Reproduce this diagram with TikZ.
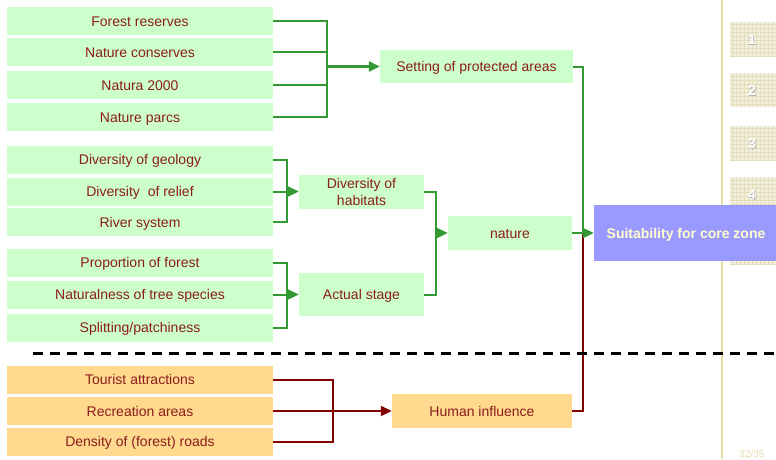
\documentclass[tikz,border=0pt]{standalone}
\usepackage{fontspec}
\setmainfont{Liberation Sans}
\usetikzlibrary{arrows.meta}
\definecolor{boxgreen}{HTML}{CCFFCC}
\definecolor{boxorange}{HTML}{FFD98E}
\definecolor{boxblue}{HTML}{9999FF}
\definecolor{txtred}{HTML}{8C1C1C}
\definecolor{txtyellow}{HTML}{FFFFCC}
\definecolor{linegreen}{HTML}{339933}
\definecolor{linered}{HTML}{800000}
\definecolor{tanline}{HTML}{E6DDA8}
\definecolor{tilebg}{HTML}{F2EFDC}
\definecolor{tilegrid}{HTML}{E4DDBC}
\begin{document}
\begin{tikzpicture}[x=1pt,y=-1pt,
    lbl/.style={text=txtred,inner sep=0pt,align=center,text height=10.5pt,text depth=0.5pt,
      font=\fontsize{14}{17}\selectfont},
    gbox/.style={lbl,fill=boxgreen},
    obox/.style={lbl,fill=boxorange},
    leaf/.style={minimum width=266pt,minimum height=28pt},
    gline/.style={draw=linegreen,line width=2pt},
    rline/.style={draw=linered,line width=2pt},
    tip/.style={-{Triangle[length=11pt,width=10pt]}}]
  \useasboundingbox (0,0) rectangle (776,459);
  \draw[tanline,line width=2pt] (722,0) -- (722,459);
  \foreach \y/\n in {22/1,73/2,126/3,177/4}{
    \fill[tilebg] (730,\y) rectangle (780,\y+34);
    \draw[tilegrid,line width=0.3pt,step=4pt] (730,\y) grid (780,\y+34);
    \node[text=gray!60,font=\fontsize{14}{16}\selectfont\bfseries] at (752.8,\y+18.8) {\n};
    \node[text=white,font=\fontsize{14}{16}\selectfont\bfseries] (t\n) at (752,\y+18) {\n};
  }
  \fill[tilebg] (730,229) rectangle (780,264);
  \draw[tilegrid,line width=0.3pt,step=4pt] (730,229) grid (780,264);
  \node[text=tanline,font=\fontsize{10}{12}\selectfont] (pg) at (752,454) {32/35};

  \node[gbox,leaf] (fr) at (140,21) {Forest reserves};
  \node[gbox,leaf] (nc) at (140,52) {Nature conserves};
  \node[gbox,leaf] (na) at (140,85) {Natura 2000};
  \node[gbox,leaf] (np) at (140,117) {Nature parcs};
  \node[gbox,leaf] (dg) at (140,159.5) {Diversity of geology};
  \node[gbox,leaf] (dr) at (140,191.5) {Diversity\ \ of relief};
  \node[gbox,leaf] (rs) at (140,222) {River system};
  \node[gbox,leaf] (pf) at (140,262.5) {Proportion of forest};
  \node[gbox,leaf] (nt) at (140,294.5) {Naturalness of tree species};
  \node[gbox,leaf] (sp) at (140,327.5) {Splitting/patchiness};
  \node[obox,leaf] (ta) at (140,379.5) {Tourist attractions};
  \node[obox,leaf] (re) at (140,411) {Recreation areas};
  \node[obox,leaf] (de) at (140,441.5) {Density of (forest) roads};

  \node[gbox,minimum width=193pt,minimum height=33pt] (spa) at (476.5,66.5) {Setting of protected areas};
  \node[gbox,minimum width=125pt,minimum height=34pt,text height=27.5pt] (dh) at (361.5,191.5) {Diversity of\\habitats};
  \node[gbox,minimum width=125pt,minimum height=43pt] (as) at (361.5,294.5) {Actual stage};
  \node[gbox,minimum width=124pt,minimum height=34pt] (nat) at (510,233) {nature};
  \node[obox,minimum width=180pt,minimum height=34pt] (hi) at (482,411) {Human influence};
  \node[fill=boxblue,text=txtyellow,inner sep=0pt,minimum width=184pt,minimum height=56pt,
    text height=10.5pt,text depth=0.5pt,font=\fontsize{14}{17}\selectfont\bfseries] (suit) at (686,233) {Suitability for core zone};

  \coordinate (b1) at (327,66.5);
  \coordinate (b2) at (287,191.5);
  \coordinate (b3) at (287,294.5);
  \coordinate (b4) at (436,233);
  \coordinate (b5) at (583,233);
  \coordinate (b6) at (333,411);

  \draw[gline] (fr.east) -| (b1) |- (np.east);
  \draw[gline] (nc.east) -- (nc.east -| b1) (na.east) -- (na.east -| b1);
  \draw[gline,line width=3pt,tip] (b1) -- (spa.west);
  \draw[gline] (dg.east) -| (b2) |- (rs.east);
  \draw[gline,tip] (dr.east) -- (dh.west);
  \draw[gline] (pf.east) -| (b3) |- (sp.east);
  \draw[gline,tip] (nt.east) -- (as.west);
  \draw[gline] (dh.east) -| (b4) |- (as.east);
  \draw[gline,tip] (b4) -- (nat.west);
  \draw[rline] (hi.east) -| (b5);
  \draw[gline] (spa.east) -| (b5);
  \draw[gline,tip] (nat.east) -- (suit.west);
  \draw[rline] (ta.east) -| (b6) |- (de.east);
  \draw[rline,tip] (re.east) -- (hi.west);

  \draw[line width=3pt,dash pattern=on 10pt off 7pt] (33,353) -- (776,353);
\end{tikzpicture}
\end{document}
